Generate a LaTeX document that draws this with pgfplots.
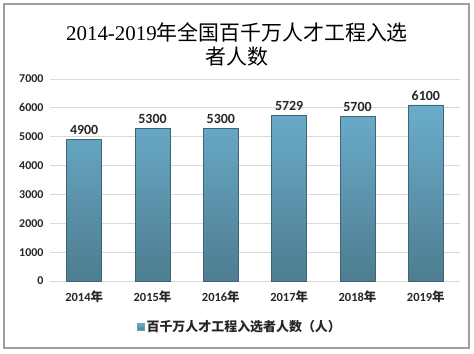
\documentclass[border=0pt]{standalone}
\usepackage{fontspec}
\setmainfont{Carlito}
\newfontfamily\cjk{Noto Sans CJK SC}
\newfontfamily\serif{Liberation Serif}
\usepackage{pgfplots}
\pgfplotsset{compat=1.18}
\definecolor{barTop}{HTML}{6AADCB}
\definecolor{barBot}{HTML}{4E7D90}
\definecolor{barEdge}{HTML}{3E6577}
\definecolor{gridc}{HTML}{D9D9D9}
\definecolor{txt}{HTML}{262626}
\begin{document}
\begin{tikzpicture}[x=1bp,y=1bp]
\path (0,0) rectangle (474,353);
\draw[gray!75, line width=1.2bp] (4,5) rectangle (469,349);
\node[align=center, font=\fontsize{21}{25}\selectfont, text=black] at (237,308.5)
  {{\serif 2014-2019}{\cjk 年全国百千万人才工程入选}\\{\cjk 者人数}};
\begin{axis}[
  at={(50bp,72bp)}, anchor=south west,
  scale only axis, width=410bp, height=202bp,
  xmin=-0.5, xmax=5.5, ymin=0, ymax=7000,
  ytick={0,1000,...,7000},
  xtick={0,...,5},
  xticklabels={2014{\cjk\bfseries 年},2015{\cjk\bfseries 年},2016{\cjk\bfseries 年},2017{\cjk\bfseries 年},2018{\cjk\bfseries 年},2019{\cjk\bfseries 年}},
  ymajorgrids, grid style={gridc, line width=0.8bp},
  axis line style={draw=none},
  major tick length=0pt,
  /pgf/number format/assume math mode=true,
  /pgf/number format/1000 sep={},
  yticklabel style={font=\bfseries\fontsize{12}{12}\selectfont, text=txt, xshift=-3bp},
  xticklabel style={font=\bfseries\fontsize{12.5}{12.5}\selectfont, text=txt, yshift=-6bp},
  ybar, bar width=35bp,
  nodes near coords,
  every node near coord/.append style={font=\bfseries\fontsize{14}{14}\selectfont, text=txt, yshift=1bp},
  legend style={at={(0.463,-0.228)}, anchor=center, draw=none, fill=none,
    font=\cjk\bfseries\fontsize{13}{13}\selectfont, text=txt},
  legend image code/.code={\fill[barTop!85!barBot] (0bp,-3.5bp) rectangle (7bp,3.5bp);},
]
\addplot[draw=barEdge, line width=0.8bp, top color=barTop, bottom color=barBot]
  coordinates {(0,4900) (1,5300) (2,5300) (3,5729) (4,5700) (5,6100)};
\addlegendentry{百千万人才工程入选者人数（人）}
\end{axis}
\end{tikzpicture}
\end{document}
